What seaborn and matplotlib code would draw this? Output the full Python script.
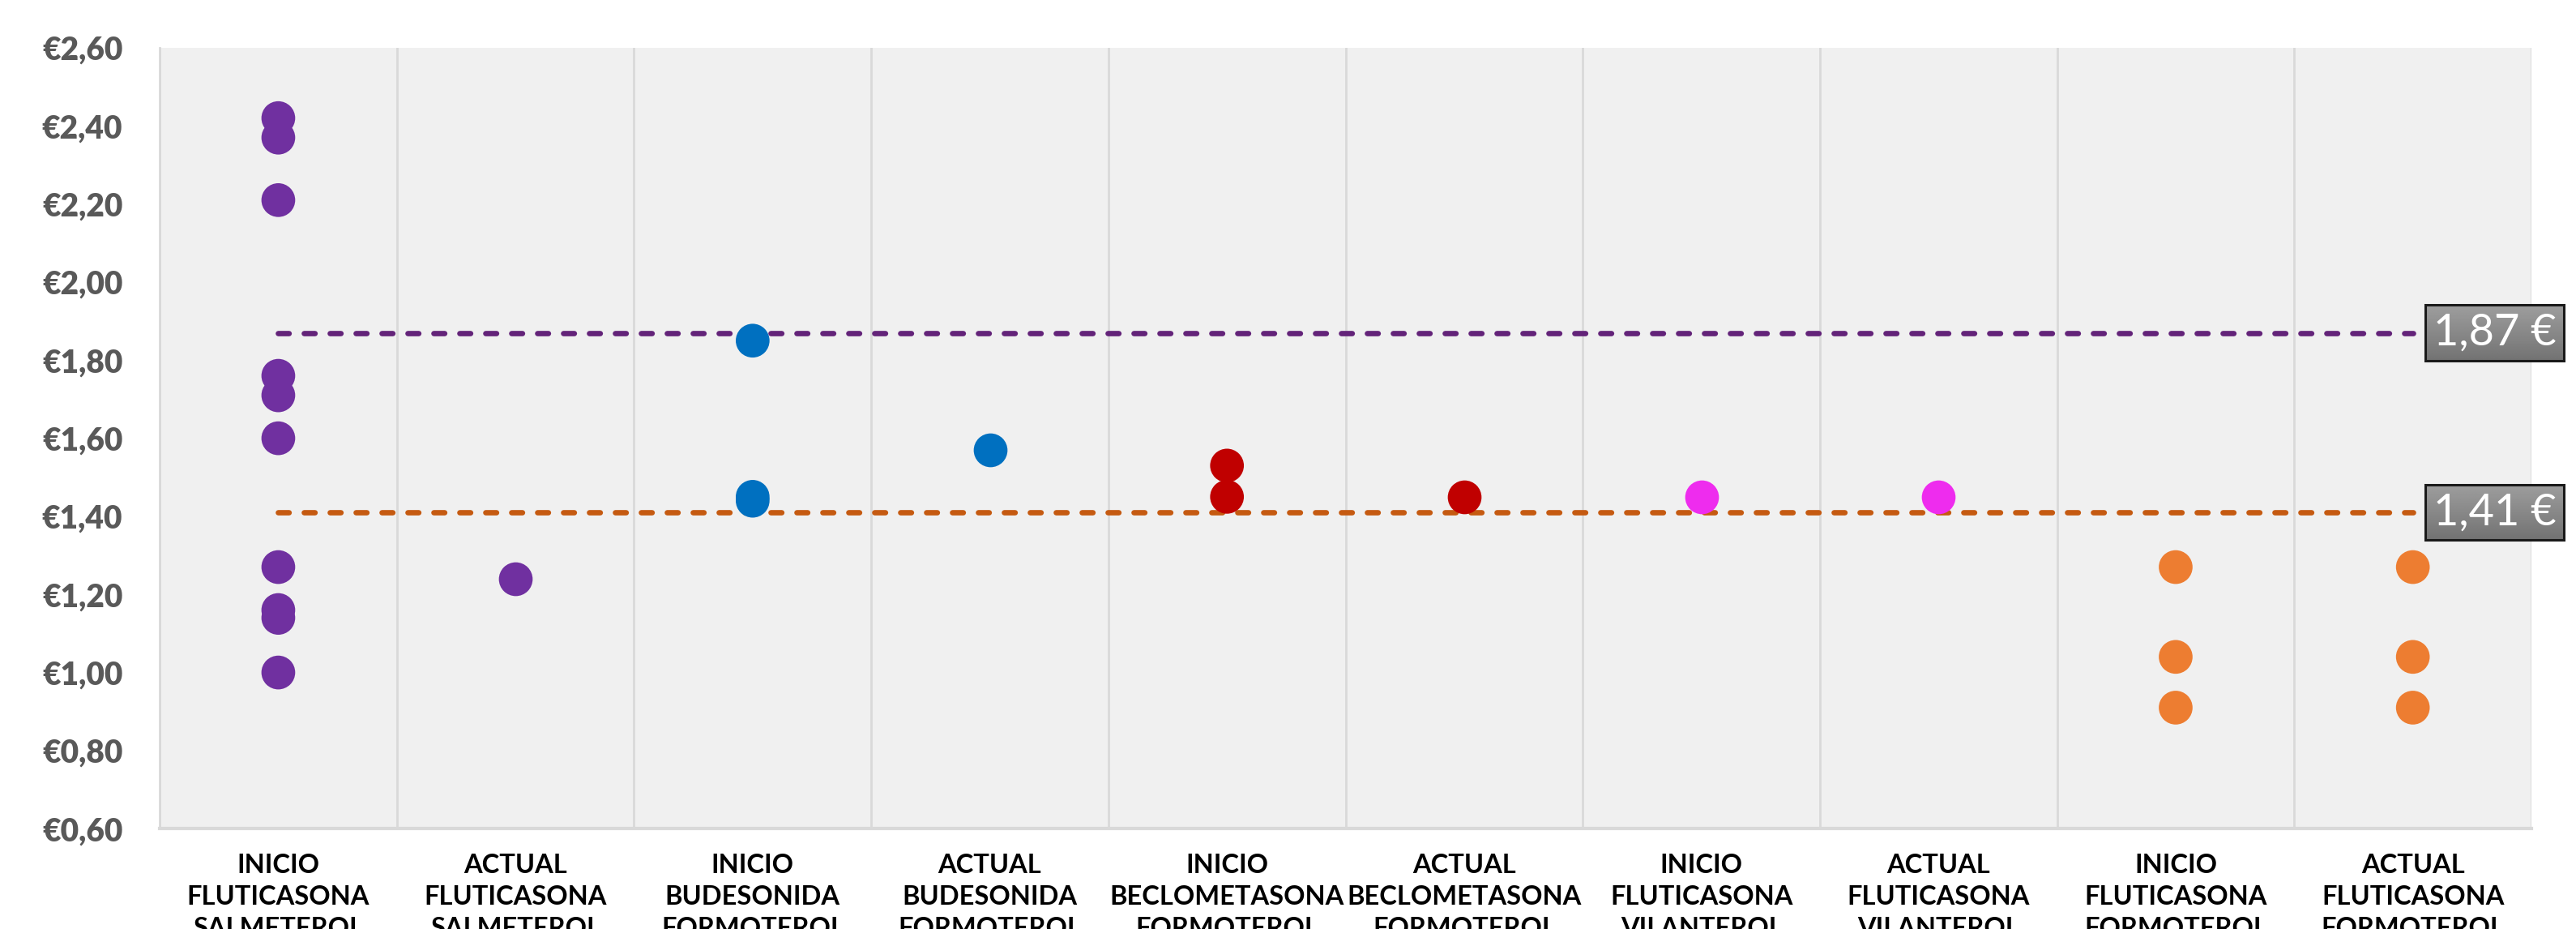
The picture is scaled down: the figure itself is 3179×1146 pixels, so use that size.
import matplotlib
matplotlib.use("Agg")
import matplotlib.pyplot as plt
import seaborn as sns
import pandas as pd
import numpy as np
from matplotlib.ticker import FuncFormatter, FixedLocator

# ---- data ----
categories = [
    "INICIO\nFLUTICASONA\nSALMETEROL",
    "ACTUAL\nFLUTICASONA\nSALMETEROL",
    "INICIO\nBUDESONIDA\nFORMOTEROL",
    "ACTUAL\nBUDESONIDA\nFORMOTEROL",
    "INICIO\nBECLOMETASONA\nFORMOTEROL",
    "ACTUAL\nBECLOMETASONA\nFORMOTEROL",
    "INICIO\nFLUTICASONA\nVILANTEROL",
    "ACTUAL\nFLUTICASONA\nVILANTEROL",
    "INICIO\nFLUTICASONA\nFORMOTEROL",
    "ACTUAL\nFLUTICASONA\nFORMOTEROL",
]
inicio_flut_salm = [2.42, 2.37, 2.21, 1.76, 1.71, 1.60, 1.27, 1.16, 1.14, 1.00]
actual_flut_salm = [1.24]
inicio_bude_form = [1.85, 1.45, 1.44]
actual_bude_form = [1.57]
inicio_beclo_form = [1.53, 1.45]
actual_beclo_form = [1.45]
inicio_flut_vil = [1.45]
actual_flut_vil = [1.45]
inicio_flut_form = [1.27, 1.04, 0.91]
actual_flut_form = [1.27, 1.04, 0.91]
series_values = [inicio_flut_salm, actual_flut_salm, inicio_bude_form, actual_bude_form,
                 inicio_beclo_form, actual_beclo_form, inicio_flut_vil, actual_flut_vil,
                 inicio_flut_form, actual_flut_form]
point_colors = ["#7030A0", "#7030A0", "#0070C0", "#0070C0", "#C00000", "#C00000",
                "#EE2CEE", "#EE2CEE", "#ED7D31", "#ED7D31"]
ref_values = [1.87, 1.41]
ref_labels = ["1,87 €", "1,41 €"]
ref_colors = ["#632379", "#C55A11"]
y_ticks = [0.60, 0.80, 1.00, 1.20, 1.40, 1.60, 1.80, 2.00, 2.20, 2.40, 2.60]

rows = [(c, v) for c, vals in zip(categories, series_values) for v in vals]
df = pd.DataFrame(rows, columns=["categoria", "precio"])

# ---- figure ----
sns.set_style("white")
plt.rcParams["font.family"] = ["Lato", "DejaVu Sans"]

fig = plt.figure(figsize=(31.79, 11.46), dpi=100)
ax = fig.add_axes([0.062, 0.108, 0.9207, 0.8405])
ax.set_facecolor("#F0F0F0")

# reference dashed lines (behind points)
for val, col in zip(ref_values, ref_colors):
    ax.plot([0, len(categories) - 1], [val, val], color=col, linewidth=4.8,
            dashes=(2.0, 2.8), dash_capstyle="round", zorder=2)

sns.stripplot(data=df, x="categoria", y="precio", hue="categoria",
              order=categories, hue_order=categories, palette=point_colors,
              jitter=False, size=30, linewidth=0, legend=False, ax=ax, zorder=3)

ax.set_xlim(-0.5, len(categories) - 0.5)
ax.set_ylim(0.6, 2.6)

# value boxes
texts = []
for val, lab in zip(ref_values, ref_labels):
    t = ax.text(9.085, val, lab, ha="left", va="center", color="white",
                fontsize=39, fontfamily=["Lato", "DejaVu Sans"],
                bbox=dict(boxstyle="square,pad=0.18", facecolor="none",
                          edgecolor="#1a1a1a", linewidth=2.2),
                clip_on=False, zorder=5)
    texts.append(t)

fig.canvas.draw()
grad = np.linspace(0.62, 0.45, 64).reshape(-1, 1)
inv = ax.transData.inverted()
for t in texts:
    bb = t.get_bbox_patch().get_window_extent()
    (x0, y0), (x1, y1) = inv.transform([[bb.x0, bb.y0], [bb.x1, bb.y1]])
    ax.imshow(grad, cmap="gray", vmin=0, vmax=1, aspect="auto",
              extent=(x0, x1, y0, y1), origin="upper", zorder=4,
              clip_on=False, interpolation="bilinear")
ax.set_xlim(-0.5, len(categories) - 0.5)
ax.set_ylim(0.6, 2.6)

ax.yaxis.set_major_locator(FixedLocator(y_ticks))
ax.yaxis.set_major_formatter(FuncFormatter(lambda v, p: "€" + f"{v:.2f}".replace(".", ",")))
ax.set_xlabel("")
ax.set_ylabel("")

# vertical separators between categories
ax.xaxis.set_minor_locator(FixedLocator([i - 0.5 for i in range(len(categories) + 1)]))
ax.grid(False)
ax.grid(True, which="minor", axis="x", color="#D9D9D9", linewidth=2, zorder=0)
ax.set_axisbelow(True)

ax.tick_params(axis="y", length=0, pad=33, labelsize=28, labelcolor="#595959")
ax.tick_params(axis="x", which="both", length=0, pad=22, labelsize=23.5, labelcolor="black")
for t in ax.get_yticklabels():
    t.set_fontweight("heavy")
for t in ax.get_xticklabels():
    t.set_fontweight("bold")
    t.set_linespacing(1.42)

for side in ["top", "right"]:
    ax.spines[side].set_visible(False)
ax.spines["left"].set_color("#D9D9D9")
ax.spines["left"].set_linewidth(2)
ax.spines["bottom"].set_color("#D9D9D9")
ax.spines["bottom"].set_linewidth(3)

fig.savefig("out.png", dpi=100)
